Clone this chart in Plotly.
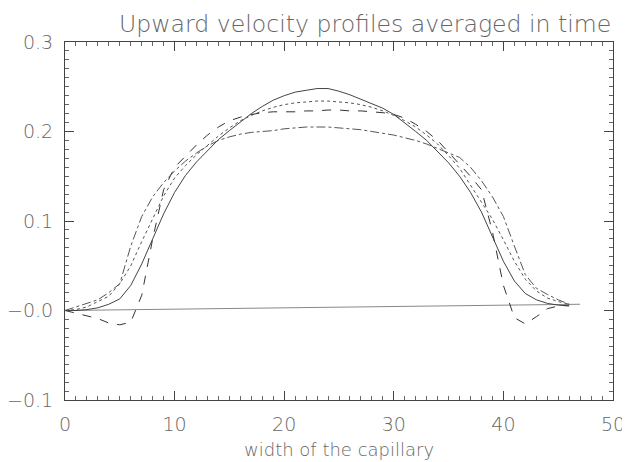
import plotly.graph_objects as go

x = list(range(0, 47))

solid = [0.000, 0.000, 0.001, 0.003, 0.007, 0.013, 0.028, 0.052, 0.080, 0.108,
         0.132, 0.151, 0.166, 0.179, 0.191, 0.201, 0.211, 0.220, 0.228, 0.235,
         0.240, 0.244, 0.246, 0.248, 0.248, 0.245, 0.241, 0.236, 0.231, 0.226,
         0.219, 0.210, 0.200, 0.190, 0.178, 0.165, 0.150, 0.132, 0.110, 0.083,
         0.055, 0.033, 0.019, 0.012, 0.008, 0.006, 0.005]

dotted = [0.000, 0.001, 0.004, 0.010, 0.016, 0.030, 0.050, 0.077, 0.103, 0.128,
          0.148, 0.162, 0.174, 0.185, 0.195, 0.204, 0.212, 0.218, 0.223, 0.227,
          0.230, 0.232, 0.233, 0.234, 0.234, 0.233, 0.232, 0.230, 0.227, 0.223,
          0.218, 0.212, 0.205, 0.196, 0.186, 0.173, 0.159, 0.140, 0.121, 0.102,
          0.079, 0.055, 0.035, 0.022, 0.014, 0.010, 0.007]

dashed = [0.000, -0.003, -0.006, -0.009, -0.014, -0.016, -0.013, 0.017, 0.080, 0.135,
          0.160, 0.173, 0.185, 0.196, 0.205, 0.212, 0.216, 0.219, 0.221, 0.222,
          0.222, 0.222, 0.223, 0.223, 0.224, 0.224, 0.223, 0.223, 0.222, 0.221,
          0.219, 0.215, 0.208, 0.200, 0.190, 0.177, 0.163, 0.150, 0.135, 0.088,
          0.028, -0.008, -0.015, -0.007, 0.002, 0.005, 0.006]

dashdot = [0.000, 0.004, 0.008, 0.012, 0.020, 0.030, 0.072, 0.105, 0.127, 0.143,
           0.156, 0.167, 0.176, 0.184, 0.190, 0.194, 0.197, 0.199, 0.200, 0.201,
           0.203, 0.204, 0.205, 0.205, 0.205, 0.204, 0.203, 0.202, 0.200, 0.198,
           0.196, 0.193, 0.190, 0.186, 0.181, 0.176, 0.171, 0.160, 0.145, 0.127,
           0.105, 0.072, 0.040, 0.025, 0.018, 0.012, 0.007]

ref_x = [0, 47]
ref_y = [0.0, 0.007]

y_tickvals = [-0.1, 0.0, 0.1, 0.2, 0.3]
y_ticktext = ["\u22120.1", "\u22120.0", "0.1", "0.2", "0.3"]
x_tickvals = [0, 10, 20, 30, 40, 50]
x_ticktext = ["0", "10", "20", "30", "40", "50"]

FONT = "DejaVu Sans"
TXT = "#666666"

fig = go.Figure()
fig.add_trace(go.Scatter(x=ref_x, y=ref_y, mode="lines",
                         line=dict(color="#888888", width=1)))
fig.add_trace(go.Scatter(x=x, y=solid, mode="lines",
                         line=dict(color="#444444", width=1)))
fig.add_trace(go.Scatter(x=x, y=dotted, mode="lines",
                         line=dict(color="#555555", width=1, dash="dot")))
fig.add_trace(go.Scatter(x=x, y=dashed, mode="lines",
                         line=dict(color="#333333", width=1, dash="dash")))
fig.add_trace(go.Scatter(x=x, y=dashdot, mode="lines",
                         line=dict(color="#555555", width=1, dash="dashdot")))

axis_common = dict(
    showgrid=False, zeroline=False, showline=True, linecolor="#444444",
    linewidth=1, mirror="allticks", ticks="inside", ticklen=9,
    tickcolor="#444444", tickwidth=1, automargin=False,
    tickfont=dict(family=FONT, size=19, color=TXT, weight=200),
)

fig.update_xaxes(range=[0, 50], tickvals=x_tickvals, ticktext=x_ticktext,
                 minor=dict(ticks="inside", dtick=1, ticklen=4,
                            tickcolor="#666666", tickwidth=1),
                 ticklabelstandoff=7,
                 **axis_common)
fig.update_yaxes(range=[-0.1, 0.3], tickvals=y_tickvals, ticktext=y_ticktext,
                 minor=dict(ticks="inside", dtick=0.01, tick0=0, ticklen=4,
                            tickcolor="#666666", tickwidth=1),
                 ticklabelstandoff=7,
                 **axis_common)

fig.add_annotation(text="width of the capillary",
                   xref="paper", yref="paper", x=0.5, y=0.0,
                   xanchor="center", yanchor="middle", yshift=-49,
                   showarrow=False,
                   font=dict(family=FONT, size=18, color=TXT, weight=200))

fig.add_annotation(text="Upward velocity profiles averaged in time",
                   xref="paper", yref="paper", x=0.547, y=1.0,
                   xanchor="center", yanchor="middle", yshift=18,
                   showarrow=False,
                   font=dict(family=FONT, size=23.6, color=TXT, weight=200))

# the page adds an 8 px body margin, so the figure is 8 px smaller
fig.update_layout(width=622, height=454, showlegend=False,
                  paper_bgcolor="white", plot_bgcolor="white",
                  margin=dict(l=57, r=17, t=34, b=62))

fig.write_html("out.html")
